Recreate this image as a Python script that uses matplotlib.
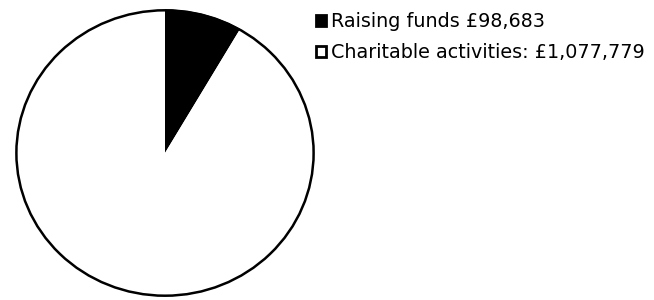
import matplotlib.pyplot as plt

# Expenditure split
labels = ["Raising funds £98,683", "Charitable activities: £1,077,779"]
values = [98683, 1077779]
colors = ["black", "white"]

plt.rcParams['font.family'] = ['DejaVu Sans']

fig = plt.figure(figsize=(6.54, 3.0), dpi=100)
# slightly wider than tall, as in the scanned original
ax = fig.add_axes([14 / 654, 2 / 300, 302 / 654, 290 / 300])

wedges, _ = ax.pie(values, colors=colors, startangle=90, counterclock=False,
                   radius=1.0, wedgeprops=dict(edgecolor="black", linewidth=0))
# outer ring
ring = plt.Circle((0, 0), 0.994, fill=False, edgecolor="black", linewidth=1.8)
ax.add_patch(ring)
ax.set_xlim(-1.01, 1.01)
ax.set_ylim(-1.01, 1.01)
ax.set_aspect("auto")
ax.axis("off")

handles = [plt.Rectangle((0, 0), 1, 1, facecolor=c, edgecolor="black", linewidth=2)
           for c in colors]
fig.legend(handles, labels, loc="upper left", bbox_to_anchor=(316 / 654, 1 - 12 / 300),
           frameon=False, fontsize=13.8, handlelength=0.5, handleheight=0.5,
           handletextpad=0.3, labelspacing=0.62, borderaxespad=0, borderpad=0)

fig.savefig("out.png", dpi=100)
